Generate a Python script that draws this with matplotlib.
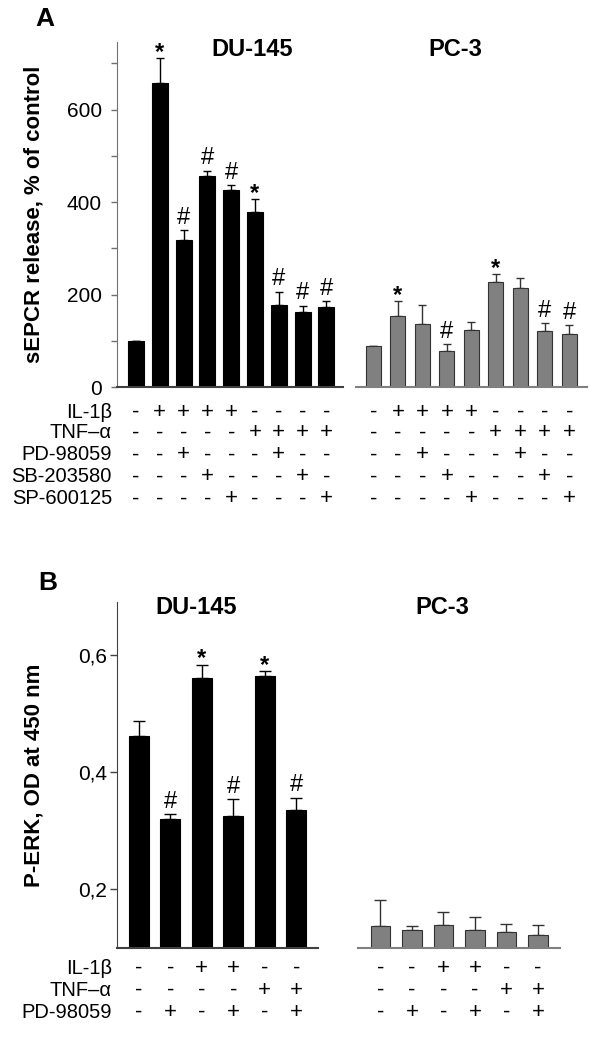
import matplotlib
matplotlib.use('Agg')
import matplotlib.pyplot as plt
from matplotlib.transforms import blended_transform_factory

plt.rcParams['font.family'] = ['Liberation Sans', 'DejaVu Sans']

# panel A: sEPCR release, % of control
a_du_vals = [100, 658, 318, 457, 427, 379, 177, 163, 172]
a_du_err = [0, 53, 21, 11, 9, 27, 29, 13, 14]
a_du_marks = ['', '*', '#', '#', '#', '*', '#', '#', '#']
a_pc_vals = [89, 153, 137, 77, 124, 227, 214, 121, 115]
a_pc_err = [0, 33, 40, 15, 16, 17, 21, 17, 18]
a_pc_marks = ['', '*', '', '#', '', '*', '', '#', '#']
a_rows = ['IL-1\u03b2', 'TNF\u2013\u03b1', 'PD-98059', 'SB-203580', 'SP-600125']
a_signs = [
    '-++++----',
    '-----++++',
    '--+---+--',
    '---+---+-',
    '----+---+',
]

# panel B: P-ERK, OD at 450 nm
b_du_vals = [0.462, 0.320, 0.561, 0.325, 0.564, 0.336]
b_du_err = [0.025, 0.008, 0.022, 0.029, 0.008, 0.020]
b_du_marks = ['', '#', '*', '#', '*', '#']
b_pc_vals = [0.137, 0.130, 0.139, 0.131, 0.127, 0.122]
b_pc_err = [0.045, 0.008, 0.023, 0.022, 0.014, 0.017]
b_rows = ['IL-1\u03b2', 'TNF\u2013\u03b1', 'PD-98059']
b_signs = [
    '--++--',
    '----++',
    '-+-+-+',
]

W, H = 600.0, 1041.0
fig = plt.figure(figsize=(6, 10.41), dpi=100)


def box(x0, x1, ytop, ybot):
    # pixel box -> figure fraction
    return [x0 / W, 1 - ybot / H, (x1 - x0) / W, (ybot - ytop) / H]


def bars(ax, vals, err, marks, color, ecolor, width, capsize, xlim, ylim):
    x = list(range(len(vals)))
    ax.bar(x, vals, width=width, color=color, edgecolor=ecolor, linewidth=0.8,
           zorder=2)
    up = [e if e > 0 else 0 for e in err]
    ax.errorbar(x, vals, yerr=[[0] * len(vals), up], fmt='none', ecolor=ecolor,
                elinewidth=1.0, capsize=capsize, capthick=1.0, zorder=1)
    for xi, v, e, m in zip(x, vals, err, marks):
        if m:
            ax.annotate(m, (xi, v + e), xytext=(0, 1 if m == '#' else -4),
                        textcoords='offset points', ha='center', va='bottom',
                        fontsize=17, fontweight='bold' if m == '*' else 'normal')
    ax.set_xlim(*xlim)
    ax.set_ylim(*ylim)
    ax.set_xticks([])
    for s in ['top', 'right']:
        ax.spines[s].set_visible(False)


def table(ax, signs, rows, ys, labels=True):
    tr = blended_transform_factory(ax.transData, fig.transFigure)
    for r, (row, y) in enumerate(zip(signs, ys)):
        for i, ch in enumerate(row):
            ax.text(i, 1 - y / H, '+' if ch == '+' else '-', transform=tr,
                    ha='center', va='center', fontsize=16)
        if labels:
            fig.text(112 / W, 1 - y / H, rows[r], ha='right', va='center', fontsize=14.5)


# ---------- panel A ----------
axA1 = fig.add_axes(box(117, 343, 42, 387))
bars(axA1, a_du_vals, a_du_err, a_du_marks, 'black', 'black', 0.67, 3,
     (-0.8, 8.7), (0, 746))
axA1.set_yticks([0, 200, 400, 600])
axA1.set_yticks([100, 300, 500, 700], minor=True)
axA1.tick_params(axis='y', which='both', direction='out', length=4, width=1,
                 color='#707070', labelsize=15, pad=7)
axA1.spines['left'].set_color('#707070')
axA1.spines['bottom'].set_color('#404040')
axA1.spines['bottom'].set_linewidth(1.5)
axA1.set_ylabel('sEPCR release, % of control', fontsize=16, fontweight='bold')
axA1.yaxis.set_label_coords((45 - 117) / 226.0, 0.5)

axA2 = fig.add_axes(box(356, 587, 42, 387))
bars(axA2, a_pc_vals, a_pc_err, a_pc_marks, '#808080', '#333333', 0.61, 3,
     (-0.71, 8.72), (0, 746))
axA2.spines['left'].set_visible(False)
axA2.set_yticks([])
axA2.spines['bottom'].set_color('#808080')
axA2.spines['bottom'].set_linewidth(1.5)

a_row_y = [412, 433, 455, 477, 499]
table(axA1, a_signs, a_rows, a_row_y)
table(axA2, a_signs, a_rows, a_row_y, labels=False)

fig.text(252 / W, 1 - 50 / H, 'DU-145', ha='center', va='center', fontsize=17, fontweight='bold')
fig.text(455 / W, 1 - 50 / H, 'PC-3', ha='center', va='center', fontsize=17, fontweight='bold')
fig.text(45 / W, 1 - 19 / H, 'A', ha='center', va='center', fontsize=19, fontweight='bold')

# ---------- panel B ----------
axB1 = fig.add_axes(box(117, 318, 602, 948))
bars(axB1, b_du_vals, b_du_err, b_du_marks, 'black', 'black', 0.62, 4,
     (-0.69, 5.69), (0.1, 0.69))
axB1.set_yticks([0.2, 0.4, 0.6])
axB1.set_yticklabels(['0,2', '0,4', '0,6'])
axB1.tick_params(axis='y', direction='out', length=5, width=1,
                 color='#404040', labelsize=15, pad=2)
axB1.spines['left'].set_color('#404040')
axB1.spines['bottom'].set_color('#404040')
axB1.spines['bottom'].set_linewidth(1.5)
axB1.set_ylabel('P-ERK, OD at 450 nm', fontsize=16, fontweight='bold')
axB1.yaxis.set_label_coords((45 - 117) / 201.0, 0.5)

axB2 = fig.add_axes(box(358, 560, 602, 948))
bars(axB2, b_pc_vals, b_pc_err, [''] * 6, '#808080', '#333333', 0.62, 4,
     (-0.71, 5.70), (0.1, 0.69))
axB2.spines['left'].set_visible(False)
axB2.set_yticks([])
axB2.spines['bottom'].set_color('#808080')
axB2.spines['bottom'].set_linewidth(1.5)

b_row_y = [968, 990, 1012]
table(axB1, b_signs, b_rows, b_row_y)
table(axB2, b_signs, b_rows, b_row_y, labels=False)

fig.text(196 / W, 1 - 608 / H, 'DU-145', ha='center', va='center', fontsize=17, fontweight='bold')
fig.text(442 / W, 1 - 608 / H, 'PC-3', ha='center', va='center', fontsize=17, fontweight='bold')
fig.text(48 / W, 1 - 583 / H, 'B', ha='center', va='center', fontsize=19, fontweight='bold')

fig.savefig('out.png', dpi=100)
